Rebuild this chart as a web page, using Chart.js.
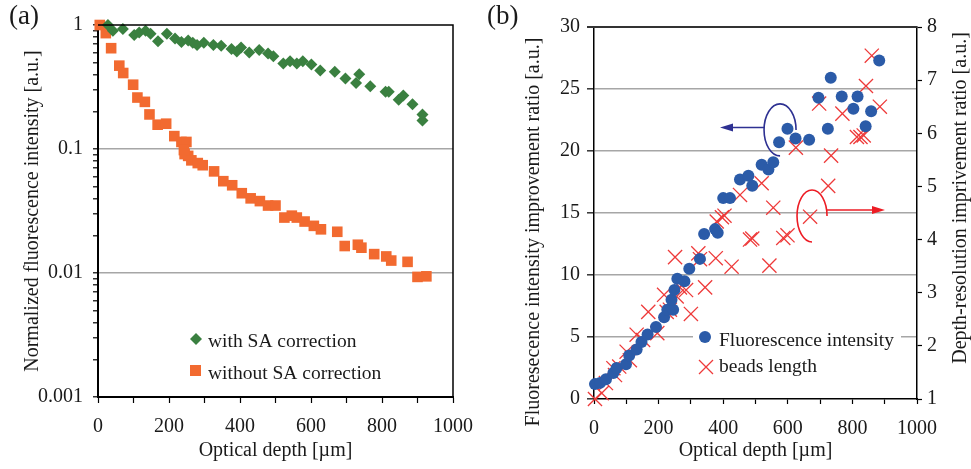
<!DOCTYPE html>
<html><head><meta charset="utf-8">
<script src="https://cdn.jsdelivr.net/npm/chart.js@4.4.1/dist/chart.umd.min.js"></script>
<style>
html,body{margin:0;padding:0;background:#fff;}
#wrap{position:relative;width:971px;height:469px;overflow:hidden;background:#fff;}
#ca{position:absolute;left:0;top:0;width:485px;height:469px;}
#cb{position:absolute;left:485px;top:0;width:486px;height:469px;}
</style></head><body>
<div id="wrap">
<canvas id="ca" width="485" height="469"></canvas>
<canvas id="cb" width="486" height="469"></canvas>
</div>
<script>
// ---------- Panel (a) data ----------
const depthWithSA = [28, 42, 70, 102, 116, 134, 148, 169, 194, 217, 235, 254, 267, 279, 298, 325, 347, 376, 391, 403, 426, 454, 479, 494, 522, 541, 560, 577, 601, 626, 667, 697, 727, 736, 767, 810, 819, 847, 860, 886, 914, 914];
const intensityWithSA = [1.0, 0.90, 0.93, 0.83, 0.87, 0.90, 0.85, 0.74, 0.85, 0.78, 0.73, 0.75, 0.72, 0.69, 0.72, 0.69, 0.68, 0.64, 0.61, 0.66, 0.60, 0.63, 0.59, 0.56, 0.49, 0.51, 0.49, 0.51, 0.48, 0.43, 0.42, 0.37, 0.34, 0.40, 0.32, 0.29, 0.29, 0.25, 0.27, 0.23, 0.19, 0.17];
const depthWithoutSA = [5, 22, 37, 60, 71, 99, 111, 132, 145, 168, 192, 215, 235, 249, 242, 254, 244, 263, 281, 295, 327, 353, 378, 405, 430, 456, 479, 500, 525, 546, 560, 582, 608, 628, 674, 695, 732, 742, 778, 812, 826, 872, 900, 925];
const intensityWithoutSA = [1.0, 0.86, 0.65, 0.47, 0.41, 0.33, 0.26, 0.24, 0.19, 0.157, 0.16, 0.127, 0.114, 0.114, 0.098, 0.088, 0.091, 0.081, 0.077, 0.074, 0.066, 0.055, 0.051, 0.044, 0.040, 0.038, 0.035, 0.035, 0.028, 0.029, 0.028, 0.026, 0.024, 0.0225, 0.0215, 0.0165, 0.0169, 0.016, 0.0142, 0.0136, 0.0126, 0.0123, 0.0093, 0.0094];
const decadeTicks = [1, 0.1, 0.01, 0.001];
const decadeLabels = ['1', '0.1', '0.01', '0.001'];
const depthTickLabels = [0, 200, 400, 600, 800, 1000];

// ---------- Panel (b) data ----------
const depthFI = [3, 19, 37, 60, 70, 99, 109, 132, 147, 166, 192, 217, 227, 245, 240, 249, 258, 280, 295, 328, 341, 375, 383, 400, 421, 452, 478, 490, 519, 540, 555, 573, 599, 624, 666, 695, 724, 733, 767, 803, 816, 841, 858, 883];
const fluorescenceRatio = [1.2, 1.3, 1.6, 2.1, 2.5, 2.8, 3.5, 4.0, 4.6, 5.2, 5.8, 6.6, 7.2, 7.2, 8.0, 8.8, 9.7, 9.5, 10.5, 11.3, 13.3, 13.7, 13.4, 16.2, 16.2, 17.7, 18.0, 17.2, 18.9, 18.5, 19.1, 20.7, 21.8, 21.0, 20.9, 24.3, 21.8, 25.9, 24.4, 23.4, 24.4, 22.0, 23.2, 27.3];
const depthBL = [3, 24, 37, 60, 65, 78, 101, 111, 132, 152, 196, 168, 225, 235, 300, 217, 256, 266, 285, 344, 251, 323, 328, 377, 426, 543, 483, 490, 586, 599, 380, 396, 404, 669, 452, 519, 725, 555, 734, 625, 814, 825, 835, 769, 697, 885, 842, 860];
const beadsRatio = [1.0, 1.11, 1.30, 1.58, 1.45, 1.61, 1.89, 1.73, 2.21, 2.11, 2.24, 2.64, 2.64, 2.68, 2.60, 2.96, 2.93, 3.10, 3.05, 3.10, 3.67, 3.74, 3.63, 3.65, 3.49, 3.51, 4.00, 4.02, 4.03, 4.08, 4.34, 4.42, 4.45, 4.43, 4.84, 5.06, 5.01, 4.60, 5.58, 5.73, 5.93, 5.93, 5.96, 6.37, 6.56, 6.50, 6.89, 7.46];

// ---------- common style ----------
const FONT = "'Liberation Serif', 'Times New Roman', serif";
const TXT = '#1a1a1a';
Chart.defaults.font.family = FONT;
Chart.defaults.font.size = 20;
Chart.defaults.color = TXT;
const GRID = '#a6a6a6';
const GREEN = '#3a8040', ORANGE = '#f26a30', BLUE = '#2b5ba8', RED = '#ee3a3a';

const logTickValues = decadeTicks.flatMap(d => d < 1 ? [1,2,3,4,5,6,7,8,9].map(k => +(k * d).toPrecision(3)) : [d]);

const panelA = {
  id: 'panelA',
  afterDraw(chart) {
    const {ctx, chartArea: a} = chart;
    ctx.save();
    ctx.strokeStyle = '#000'; ctx.lineWidth = 1.5;
    ctx.beginPath(); ctx.moveTo(a.left, a.top); ctx.lineTo(a.right, a.top); ctx.lineTo(a.right, a.bottom); ctx.stroke();
    // legend
    const lx = a.left + 98, ly = a.top + 314;
    ctx.fillStyle = GREEN;
    ctx.beginPath(); ctx.moveTo(lx - 6, ly); ctx.lineTo(lx, ly - 6); ctx.lineTo(lx + 6, ly); ctx.lineTo(lx, ly + 6); ctx.closePath(); ctx.fill();
    ctx.fillStyle = ORANGE;
    ctx.fillRect(lx - 6, ly + 26, 11, 11);
    ctx.fillStyle = TXT; ctx.font = '19.5px ' + FONT; ctx.textBaseline = 'middle'; ctx.textAlign = 'left';
    ctx.fillText(chart.data.datasets[0].label, lx + 12, ly + 3);
    ctx.fillText(chart.data.datasets[1].label, lx + 12, ly + 35);
    ctx.font = '27px ' + FONT; ctx.textBaseline = 'top';
    ctx.fillText('(a)', 9, 3);
    ctx.restore();
  }
};

new Chart(document.getElementById('ca'), {
  type: 'scatter',
  data: { datasets: [
    { label: 'with SA correction', data: depthWithSA.map((x, i) => ({x, y: intensityWithSA[i]})),
      pointStyle: 'rectRot', pointRadius: 6, backgroundColor: GREEN, borderWidth: 0, clip: false },
    { label: 'without SA correction', data: depthWithoutSA.map((x, i) => ({x, y: intensityWithoutSA[i]})),
      pointStyle: 'rect', pointRadius: 7.5, backgroundColor: ORANGE, borderWidth: 0, clip: false }
  ]},
  options: {
    responsive: false, animation: false, devicePixelRatio: 1,
    layout: {padding: {top: 25, right: 25, left: 0, bottom: 0}},
    plugins: {legend: {display: false}, tooltip: {enabled: false}},
    scales: {
      x: {type: 'linear', min: 0, max: 1000,
        afterFit: s => { s.height = 72; },
        ticks: {stepSize: 100, autoSkip: false, maxRotation: 0, padding: 12,
          callback: v => depthTickLabels.includes(v) ? String(v) : ''},
        grid: {drawOnChartArea: false, tickLength: 6, tickColor: '#000', tickWidth: 1.2},
        border: {color: '#000', width: 2},
        title: {display: true, text: 'Optical depth [µm]', padding: {top: 0, bottom: 6}}},
      y: {type: 'logarithmic', min: 0.001, max: 1,
        afterFit: s => { s.width = 98; },
        afterBuildTicks: s => { s.ticks = logTickValues.map(v => ({value: v})); },
        ticks: {autoSkip: false, padding: 10,
          callback: v => { const i = decadeTicks.indexOf(v); return i >= 0 ? decadeLabels[i] : ''; }},
        grid: {color: c => (c.tick && (c.tick.value === 0.1 || c.tick.value === 0.01)) ? GRID : 'rgba(0,0,0,0)',
          lineWidth: 1.6, tickLength: 5, tickColor: '#000', tickWidth: 1.2},
        border: {color: '#000', width: 2},
        title: {display: true, text: 'Normalized fluorescence intensity [a.u.]', padding: {top: 21, bottom: 0}}}
    }
  },
  plugins: [panelA]
});

// ---------- Panel (b) ----------
function arrow(ctx, x1, y1, x2, y2, color) {
  const dir = Math.sign(x2 - x1);
  ctx.strokeStyle = color; ctx.fillStyle = color; ctx.lineWidth = 1.6;
  ctx.beginPath(); ctx.moveTo(x1, y1); ctx.lineTo(x2 - dir * 8, y2); ctx.stroke();
  ctx.beginPath(); ctx.moveTo(x2, y2); ctx.lineTo(x2 - dir * 13, y2 - 4); ctx.lineTo(x2 - dir * 13, y2 + 4); ctx.closePath(); ctx.fill();
}

const panelB = {
  id: 'panelB',
  afterDraw(chart) {
    const {ctx, chartArea: a, scales: {x, y}} = chart;
    ctx.save();
    ctx.strokeStyle = '#333'; ctx.lineWidth = 2;
    ctx.beginPath(); ctx.moveTo(a.left - 7, a.top); ctx.lineTo(a.right, a.top); ctx.stroke();
    // blue annotation (points to left axis)
    const bx = x.getPixelForValue(576), by = y.getPixelForValue(21.7);
    ctx.strokeStyle = '#2e3192'; ctx.lineWidth = 1.6;
    ctx.beginPath(); ctx.ellipse(bx, by, 16, 26, 0, 0.5 * Math.PI, 2 * Math.PI); ctx.stroke();
    arrow(ctx, bx - 16, y.getPixelForValue(21.9), x.getPixelForValue(390), y.getPixelForValue(21.9), '#2e3192');
    // red annotation (points to right axis)
    const rx = x.getPixelForValue(675), ry = y.getPixelForValue(14.76);
    ctx.strokeStyle = '#ed1c24'; ctx.lineWidth = 1.6;
    ctx.beginPath(); ctx.ellipse(rx, ry, 15, 26, 0, 0.5 * Math.PI, 2 * Math.PI); ctx.stroke();
    arrow(ctx, rx + 15, y.getPixelForValue(15.24), x.getPixelForValue(901), y.getPixelForValue(15.24), '#ed1c24');
    // legend
    const lx = a.left + 111, ly = a.top + 310;
    ctx.fillStyle = '#fff'; ctx.fillRect(lx - 12, ly - 11, 208, 54);
    ctx.fillStyle = BLUE; ctx.beginPath(); ctx.arc(lx, ly, 6, 0, 2 * Math.PI); ctx.fill();
    ctx.strokeStyle = RED; ctx.lineWidth = 1.3;
    ctx.beginPath(); ctx.moveTo(lx - 6, ly + 23); ctx.lineTo(lx + 8, ly + 37); ctx.moveTo(lx + 8, ly + 23); ctx.lineTo(lx - 6, ly + 37); ctx.stroke();
    ctx.fillStyle = TXT; ctx.font = '19.5px ' + FONT; ctx.textBaseline = 'middle'; ctx.textAlign = 'left';
    ctx.fillText(chart.data.datasets[0].label, lx + 14, ly + 4);
    ctx.fillText(chart.data.datasets[1].label, lx + 14, ly + 30);
    // panel label
    ctx.font = '27px ' + FONT; ctx.textBaseline = 'top';
    ctx.fillText('(b)', 2, 3);
    // axis titles (both read bottom-to-top)
    ctx.font = '20px ' + FONT; ctx.textBaseline = 'middle'; ctx.textAlign = 'center';
    ctx.save(); ctx.translate(49, 232); ctx.rotate(-Math.PI / 2);
    ctx.fillText('Fluoresecence intensity improvement ratio [a.u.]', 0, 0); ctx.restore();
    ctx.save(); ctx.translate(476, 198); ctx.rotate(-Math.PI / 2);
    ctx.fillText('Depth-resolution imprivement ratio [a.u.]', 0, 0); ctx.restore();
    ctx.restore();
  }
};

new Chart(document.getElementById('cb'), {
  type: 'scatter',
  data: { datasets: [
    { label: 'Fluorescence intensity', data: depthFI.map((x, i) => ({x, y: fluorescenceRatio[i]})),
      yAxisID: 'y', pointStyle: 'circle', pointRadius: 6, backgroundColor: BLUE, borderWidth: 0, clip: false },
    { label: 'beads length', data: depthBL.map((x, i) => ({x, y: beadsRatio[i]})),
      yAxisID: 'y2', pointStyle: 'crossRot', pointRadius: 10, borderColor: RED, backgroundColor: RED, borderWidth: 1.3, clip: false }
  ]},
  options: {
    responsive: false, animation: false, devicePixelRatio: 1,
    layout: {padding: {top: 27, right: 0, left: 0, bottom: 0}},
    plugins: {legend: {display: false}, tooltip: {enabled: false}},
    scales: {
      x: {type: 'linear', min: 0, max: 1000,
        afterFit: s => { s.height = 70; },
        ticks: {stepSize: 100, autoSkip: false, maxRotation: 0, padding: 13,
          callback: v => depthTickLabels.includes(v) ? String(v) : ''},
        grid: {drawOnChartArea: false, tickLength: 5, tickColor: '#000', tickWidth: 1.2},
        border: {color: '#000', width: 1.5},
        title: {display: true, text: 'Optical depth [µm]', padding: {top: 0, bottom: 6}}},
      y: {type: 'linear', position: 'left', min: 0, max: 30,
        afterFit: s => { s.width = 109; },
        ticks: {stepSize: 5, autoSkip: false, padding: 7},
        grid: {color: c => (c.tick && c.tick.value > 0 && c.tick.value < 30) ? GRID : 'rgba(0,0,0,0)',
          lineWidth: 1.6, tickLength: 7, tickColor: '#333', tickWidth: 1.5},
        border: {color: '#000', width: 1.5}},
      y2: {type: 'linear', position: 'right', min: 1, max: 8,
        afterFit: s => { s.width = 54; },
        ticks: {stepSize: 1, autoSkip: false, padding: 5},
        grid: {drawOnChartArea: false, tickLength: 5, tickColor: '#000', tickWidth: 1.2},
        border: {color: '#000', width: 1.5}}
    }
  },
  plugins: [panelB]
});
</script>
</body></html>
